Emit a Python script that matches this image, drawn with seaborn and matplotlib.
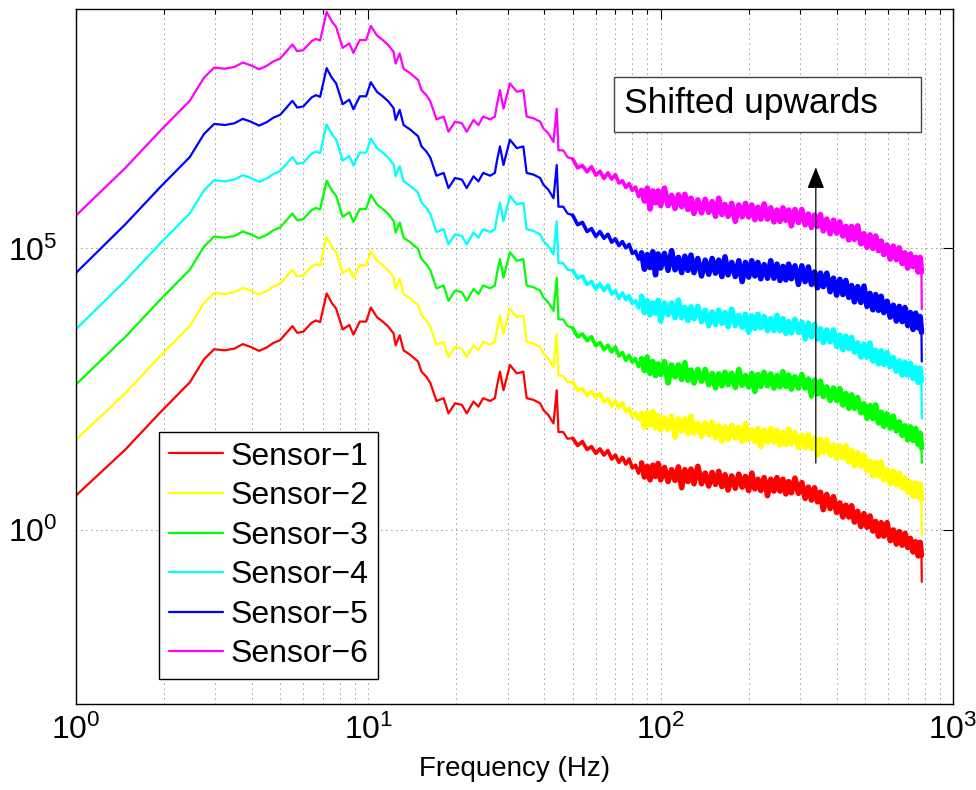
import matplotlib
matplotlib.use("Agg")
import numpy as np
import pandas as pd
import matplotlib.pyplot as plt
import seaborn as sns
from matplotlib.ticker import FixedLocator, NullLocator, LogLocator, NullFormatter
from matplotlib.patches import Rectangle

# ---------------- data: log10(PSD), before the visual upward shift ----------------
freq_low_hz = [0.98, 1.47, 1.96, 2.45, 2.74, 2.97, 3.23, 3.48, 3.72, 3.96, 4.23, 4.49, 4.73, 4.99,
               5.25, 5.50, 5.71, 5.99, 6.40, 6.62, 6.84, 7.20, 7.50, 7.76, 8.17, 8.61, 8.89, 9.35,
               9.83, 10.2, 10.7, 11.2, 11.7, 12.2, 12.4, 12.8, 13.2, 13.9, 14.8, 15.2, 15.8, 16.3,
               17.1, 18.1, 18.8, 19.8, 20.9, 21.7, 22.9, 23.8, 24.7, 26.1, 27.1, 27.5, 28.2, 29.0,
               30.5, 32.2, 33.9, 34.8, 36.7, 38.7, 39.7, 41.3, 43.0, 44.1, 44.7, 46.4, 48.0]
freq_mid_hz = [50, 52, 54, 56, 58, 60, 62, 64, 66, 68, 70, 72, 74, 76, 78, 80, 82, 84]
freq_high_hz = [86, 88, 90, 92, 94, 96, 98, 100,
                103, 106, 109, 112, 115, 118, 121, 124, 127, 130,
                134, 138, 142, 146, 150, 154, 158, 162, 166, 170,
                175, 180, 185, 190, 195, 200, 205, 210, 215, 220,
                226, 232, 238, 244, 250, 256, 262, 268, 274, 280,
                288, 296, 304, 312, 320, 328, 336, 344, 352, 360,
                370, 380, 390, 400, 410, 420, 430, 440, 450, 460,
                472, 484, 496, 508, 520, 532, 544, 556, 568, 580,
                595, 610, 625, 640, 655, 670, 685, 700, 715, 730,
                745, 760, 772, 780, 782]
freq_hz = freq_low_hz + freq_mid_hz + freq_high_hz

# shape below 48 Hz (identical for all sensors in the picture apart from the first point)
low_common = [1.42, 2.11, 2.62, 3.03, 3.21, 3.19, 3.22, 3.30, 3.25, 3.18, 3.24, 3.32, 3.37,
              3.50, 3.62, 3.50, 3.52, 3.68, 3.72, 3.69, 4.20, 4.03, 3.93, 3.56, 3.64, 3.47, 3.70,
              3.70, 3.95, 3.78, 3.70, 3.61, 3.49, 3.28, 3.46, 3.19, 3.11, 2.99, 2.81, 2.72, 2.61,
              2.29, 2.34, 2.07, 2.25, 2.22, 2.07, 2.28, 2.19, 2.34, 2.29, 2.34, 2.54, 2.81, 2.48,
              2.93, 2.78, 2.81, 2.34, 2.31, 2.25, 2.13, 2.04, 1.89, 2.48, 1.74, 1.74, 1.62]

sensor_1 = [0.57] + low_common + [
    1.63, 1.50, 1.57, 1.43, 1.48, 1.36, 1.44, 1.33, 1.41, 1.26, 1.33, 1.20, 1.29, 1.17, 1.26, 1.10, 1.15, 1.01,
    1.19, .94, 1.13, .89, 1.15, .95, 1.18, .89, 1.11, .86, 1.07, .88, 1.12, .75, 1.07, .86, 1.08, .82, 1.13, .82,
    1.01, .78, 1.02, .81, 1.04, .77, .98, .71, .96, .74, .99, .76, .95, .70, 1.01, .73, .90, .70, .93, .61,
    .90, .69, .93, .69, .90, .64, .86, .66, .92, .65, .84, .56, .76, .53, .75, .50, .67, .36, .63, .38,
    .59, .31, .48, .23, .44, .23, .43, .14, .33, .06, .29, .05, .25, -.02, .15, -.11, .13, -.11, .13, -.19,
    .00, -.25, -.03, -.27, -.06, -.31, -.15, -.39, -.21, -.46, -.22, -.45, -0.92]
sensor_2 = [0.56] + low_common + [
    1.63, 1.48, 1.51, 1.39, 1.46, 1.35, 1.42, 1.27, 1.33, 1.20, 1.29, 1.17, 1.26, 1.10, 1.16, 1.01, 1.09, .96,
    1.07, .82, 1.08, .87, 1.10, .81, 1.03, .78, .99, .79, 1.02, .65, .97, .76, .97, .71, 1.02, .72, .89, .66,
    .90, .69, .91, .64, .85, .58, .83, .61, .86, .63, .82, .57, .88, .60, .77, .57, .80, .48, .77, .56,
    .80, .56, .77, .51, .73, .52, .79, .53, .73, .47, .68, .46, .69, .45, .63, .33, .61, .38, .60, .33,
    .51, .27, .49, .28, .49, .21, .41, .14, .37, .13, .33, .06, .22, -.04, .20, -.04, .21, -.11, .07, -.18,
    .04, -.20, .01, -.25, -.08, -.33, -.15, -.40, -.17, -.41, -.19, -.46, -1.09]
sensor_3 = [0.54] + low_common + [
    1.59, 1.43, 1.48, 1.36, 1.43, 1.27, 1.33, 1.20, 1.28, 1.16, 1.25, 1.09, 1.15, 1.01, 1.10, .98, 1.04, .90,
    1.04, .83, 1.07, .78, .99, .74, .95, .76, .99, .61, .93, .72, .93, .67, .97, .66, .84, .61, .85, .64,
    .85, .58, .78, .52, .77, .56, .80, .58, .78, .53, .85, .57, .74, .54, .78, .46, .76, .55, .80, .56,
    .77, .52, .74, .54, .81, .55, .75, .50, .72, .52, .76, .52, .68, .38, .66, .42, .64, .37, .54, .30,
    .52, .30, .51, .22, .42, .16, .40, .16, .35, .08, .24, -.02, .21, -.02, .22, -.10, .09, -.16, .06, -.19,
    .02, -.24, -.08, -.32, -.15, -.40, -.17, -.41, -.20, -.48, -.28, -.54, -0.81]
sensor_4 = [0.52] + low_common + [
    1.61, 1.47, 1.51, 1.36, 1.41, 1.28, 1.37, 1.25, 1.35, 1.19, 1.25, 1.11, 1.21, 1.09, 1.16, 1.02, 1.07, .94,
    1.15, .86, 1.07, .82, 1.03, .85, 1.08, .71, 1.03, .82, 1.03, .77, 1.08, .77, .95, .72, .96, .75, .97, .70,
    .90, .63, .87, .65, .90, .67, .86, .61, .92, .63, .81, .60, .83, .51, .80, .58, .83, .59, .79, .54,
    .75, .54, .81, .54, .75, .49, .70, .50, .74, .51, .69, .39, .67, .43, .65, .39, .57, .33, .55, .34,
    .55, .26, .46, .20, .44, .22, .42, .16, .32, .07, .30, .07, .32, .00, .19, -.05, .18, -.06, .15, -.10,
    .06, -.18, .00, -.25, -.02, -.25, -.04, -.31, -.12, -.38, -.13, -.34, -1.02]
sensor_5 = [0.52] + low_common + [
    1.59, 1.42, 1.46, 1.30, 1.35, 1.21, 1.30, 1.18, 1.25, 1.11, 1.17, 1.05, 1.12, 1.01, 1.07, .91, .95, .81,
    .92, .63, .89, .66, .94, .53, .90, .65, .91, .61, .96, .62, .84, .57, .86, .61, .88, .57, .82, .51,
    .79, .54, .82, .56, .79, .50, .85, .53, .75, .50, .78, .41, .75, .49, .78, .51, .75, .46, .71, .47,
    .78, .47, .72, .43, .68, .44, .72, .46, .69, .36, .69, .41, .67, .36, .58, .30, .56, .32, .56, .23,
    .47, .17, .45, .18, .43, .13, .34, .05, .32, .04, .33, -.03, .20, -.09, .18, -.10, .15, -.14, .06, -.22,
    -.01, -.29, -.03, -.30, -.05, -.37, -.14, -.44, -.15, -.41, -.21, -.49, -1.01]
sensor_6 = [0.54] + low_common + [
    1.59, 1.43, 1.47, 1.36, 1.45, 1.30, 1.37, 1.24, 1.34, 1.23, 1.31, 1.16, 1.20, 1.08, 1.15, 1.03, 1.09, .92,
    1.03, .84, 1.07, .70, 1.02, .81, 1.02, .76, 1.07, .76, .94, .71, .95, .74, .96, .69, .89, .62, .86, .63,
    .87, .64, .83, .57, .89, .60, .78, .57, .80, .48, .77, .56, .80, .56, .77, .51, .73, .52, .79, .52,
    .72, .47, .68, .48, .72, .50, .68, .40, .69, .46, .69, .42, .61, .37, .59, .39, .60, .31, .52, .26,
    .50, .27, .47, .22, .39, .15, .39, .16, .40, .08, .26, .02, .24, .00, .22, -.04, .13, -.11, .06, -.19,
    .04, -.20, .01, -.27, -.08, -.35, -.10, -.32, -.16, -.42, -.16, -.42, -1.08]

sensor_names = ["Sensor\u22121", "Sensor\u22122", "Sensor\u22123",
                "Sensor\u22124", "Sensor\u22125", "Sensor\u22126"]
shift_decades = [0, 1, 2, 3, 4, 5]          # each sensor drawn one decade above the previous
line_colors = ["#ff0000", "#ffff00", "#00ff00", "#00ffff", "#0000ff", "#ff00ff"]
noisy_start_hz = 50                          # from here the spectra turn into a noisy band
dense_band_start_hz = 86                     # above this the band is fully dense
dense_band_end_hz = 781

# ---------------- style ----------------
sns.set_theme(style="white")
plt.rcParams["font.family"] = ["Liberation Sans", "DejaVu Sans"]
plt.rcParams["mathtext.fontset"] = "custom"
plt.rcParams["mathtext.rm"] = "Liberation Sans"
plt.rcParams["mathtext.it"] = "Liberation Sans"
plt.rcParams["mathtext.bf"] = "Liberation Sans"
for key in ["text.color", "axes.labelcolor", "xtick.color", "ytick.color", "axes.edgecolor"]:
    plt.rcParams[key] = "black"

fig = plt.figure(figsize=(9.76, 7.90), dpi=100)
ax = fig.add_axes([76 / 976, 86 / 790, 877 / 976, 695 / 790])

series = [sensor_1, sensor_2, sensor_3, sensor_4, sensor_5, sensor_6]
frames = []
for name, vals, sh in zip(sensor_names, series, shift_decades):
    frames.append(pd.DataFrame({
        "freq": freq_hz,
        "psd": 10.0 ** (np.asarray(vals, dtype=float) + sh),
        "sensor": name,
    }))
df = pd.concat(frames, ignore_index=True)

sns.lineplot(data=df, x="freq", y="psd", hue="sensor", hue_order=sensor_names,
             palette=line_colors, estimator=None, sort=False, linewidth=1.6,
             legend=False, ax=ax)
legend_lines = list(ax.get_lines()[:6])

# the noisy high-frequency part: same points, drawn with a heavier stroke so the
# hand-read zig-zag fills in like the dense original spectrum
mid = df[(df["freq"] >= noisy_start_hz) & (df["freq"] <= dense_band_start_hz)]
sns.lineplot(data=mid, x="freq", y="psd", hue="sensor", hue_order=sensor_names,
             palette=line_colors, estimator=None, sort=False, linewidth=2.6,
             legend=False, ax=ax, solid_joinstyle="round")
band = df[(df["freq"] >= dense_band_start_hz) & (df["freq"] <= dense_band_end_hz)]
sns.lineplot(data=band, x="freq", y="psd", hue="sensor", hue_order=sensor_names,
             palette=line_colors, estimator=None, sort=False, linewidth=4.0,
             legend=False, ax=ax, solid_joinstyle="round")

ax.set_xscale("log")
ax.set_yscale("log")
ax.set_xlim(1, 1000)
ax.set_ylim(10 ** -3.09, 10 ** 9.25)

ax.xaxis.set_major_locator(FixedLocator([1, 10, 100, 1000]))
ax.xaxis.set_minor_locator(LogLocator(base=10, subs=np.arange(2, 10)))
ax.xaxis.set_minor_formatter(NullFormatter())
ax.yaxis.set_major_locator(FixedLocator([1, 1e5]))
ax.yaxis.set_minor_locator(NullLocator())

ax.tick_params(which="both", direction="in", top=True, right=True, color="black", width=0.8)
ax.tick_params(which="major", length=7, labelsize=23)
ax.tick_params(which="minor", length=3.5)
ax.tick_params(axis="x", which="major", pad=8)
ax.tick_params(axis="y", which="major", pad=13)
for sp in ax.spines.values():
    sp.set_color("black")
    sp.set_linewidth(1.0)

grid_kw = dict(color="#333333", linestyle=(0, (1, 5)), linewidth=0.6)
ax.grid(True, which="major", axis="both", **grid_kw)
ax.grid(True, which="minor", axis="x", **grid_kw)
ax.set_axisbelow(True)

ax.set_xlabel("Frequency (Hz)", fontsize=20, labelpad=7)
ax.set_ylabel("")

# legend
leg = ax.legend(legend_lines, sensor_names, loc="upper left",
                bbox_to_anchor=((159 - 76) / 877, (704 - 432) / 695),
                borderaxespad=0, fontsize=23, frameon=True, fancybox=False,
                edgecolor="black", framealpha=1, borderpad=0.3, labelspacing=0.3,
                handlelength=1.7, handletextpad=0.25)
leg.get_frame().set_linewidth(1.0)

# annotation box
ax.add_patch(Rectangle(((614 - 76) / 877, (704 - 132) / 695), 307 / 877, 55 / 695,
                       transform=ax.transAxes, facecolor="white", edgecolor="#444444",
                       linewidth=1.0, zorder=5))
ax.text((624 - 76) / 877, (704 - 104) / 695, "Shifted upwards", transform=ax.transAxes,
        fontsize=25.5, ha="left", va="center", zorder=6)

# arrow
arrow_x_hz = 339.4
ax.annotate("", xy=(arrow_x_hz, 10 ** 6.44), xytext=(arrow_x_hz, 10 ** 1.19),
            arrowprops=dict(arrowstyle="-|>,head_length=0.55,head_width=0.22",
                            mutation_scale=24, color="black", lw=0.9,
                            shrinkA=0, shrinkB=0), zorder=7)

fig.savefig("out.png", dpi=100)
